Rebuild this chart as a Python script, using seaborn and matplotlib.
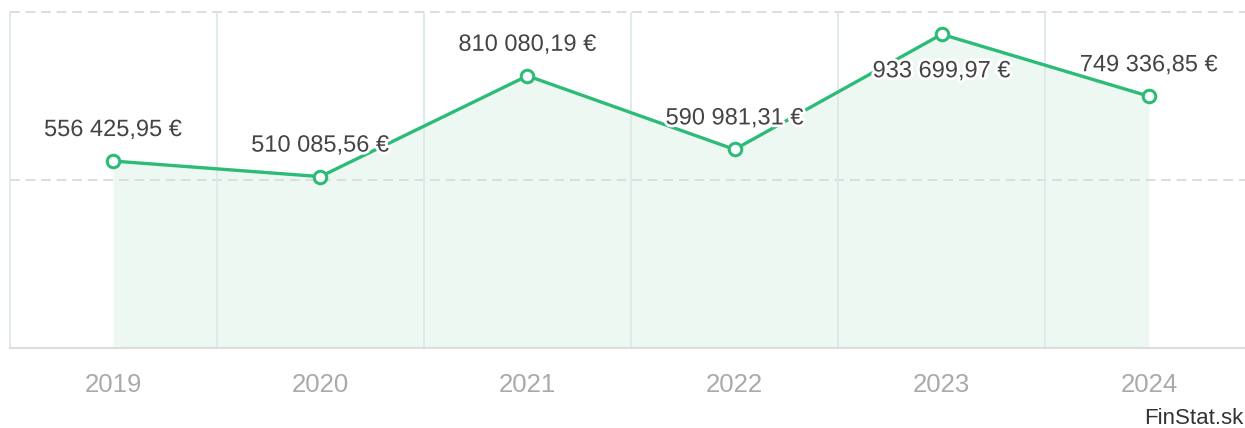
import matplotlib
matplotlib.use("Agg")
import matplotlib.pyplot as plt
import matplotlib.patheffects as pe
import seaborn as sns
import pandas as pd
import numpy as np

years = ["2019", "2020", "2021", "2022", "2023", "2024"]
values = [556425.95, 510085.56, 810080.19, 590981.31, 933699.97, 749336.85]
labels = ["556 425,95 €", "510 085,56 €", "810 080,19 €", "590 981,31 €", "933 699,97 €", "749 336,85 €"]
label_below = [False, False, False, False, True, False]

df = pd.DataFrame({"year": years, "value": values})

sns.set_theme(style="white")
plt.rcParams['font.family'] = ['Liberation Sans', 'DejaVu Sans']

W, H = 1245, 428
fig = plt.figure(figsize=(W / 100, H / 100), dpi=100)
left_px, right_px, top_px, bot_px = 9.5, 1252.5, 12, 348
ax = fig.add_axes([left_px / W, (H - bot_px) / H, (right_px - left_px) / W, (bot_px - top_px) / H])

green = "#2dbb78"
pos = np.arange(len(years))
ax.fill_between(pos, values, 0, color="#eef8f2", zorder=1, linewidth=0)
sns.lineplot(data=df, x="year", y="value", ax=ax, color=green, linewidth=2.4,
             marker="o", markersize=9, markerfacecolor="white", markeredgecolor=green,
             markeredgewidth=2.2, zorder=4, sort=False)

ax.set_xlim(-0.5, len(years) - 0.5)
ax.set_ylim(0, 1000000)

# gridlines
for yv in [500000, 1000000]:
    ax.axhline(yv, color="#dddddd", linestyle=(0, (5, 3)), linewidth=1.4, zorder=2, clip_on=False)
for xv in np.arange(0.5, len(years) - 0.5, 1):
    ax.axvline(xv, color="#dbe6e8", linewidth=1.2, zorder=2)

for s in ["top", "right"]:
    ax.spines[s].set_visible(False)
ax.spines["left"].set_color("#dbe6e8")
ax.spines["left"].set_linewidth(1.2)
ax.spines["bottom"].set_color("#dddddd")
ax.spines["bottom"].set_linewidth(1.5)

ax.set_yticks([])
ax.set_xlabel("")
ax.set_ylabel("")
ax.tick_params(axis="x", length=0, pad=18, labelsize=18.5, labelcolor="#aaaaaa")

for i, (v, t, b) in enumerate(zip(values, labels, label_below)):
    off = -37 if b else 31
    ax.annotate(t, xy=(i, v), xytext=(0, off * 0.72), textcoords="offset points",
                ha="center", va="center", fontsize=17, color="#444444", zorder=6,
                path_effects=[pe.withStroke(linewidth=4, foreground="white")])

fig.text(1243 / W, 1 - 418 / H, "FinStat.sk", ha="right", va="center", fontsize=16, color="#333333")

fig.savefig("out.png", dpi=100, facecolor="white")
